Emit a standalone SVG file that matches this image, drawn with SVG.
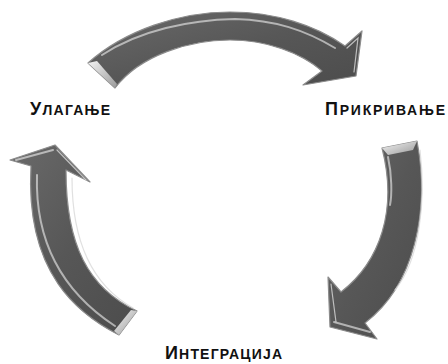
<svg xmlns="http://www.w3.org/2000/svg" width="448" height="364" viewBox="0 0 448 364">
<style>
.arrow{fill:url(#body);stroke:#8c8c8c;stroke-width:1.2;stroke-linejoin:round}
.hl{fill:none;stroke:#ffffff;stroke-linecap:round;stroke-opacity:.55;stroke-width:2}
.hl2{fill:none;stroke:#d8d8d8;stroke-linecap:round;stroke-opacity:.8;stroke-width:1.2}
.face{fill:url(#face);stroke:none}
.lbl{font-family:"Liberation Sans",Arial,sans-serif;font-weight:bold;font-size:14px;fill:#111}
.big{font-size:18px}
</style>
<defs>
<linearGradient id="body" x1="0" y1="0" x2="1" y2="1">
<stop offset="0" stop-color="#6a6a6a"/>
<stop offset="0.5" stop-color="#575757"/>
<stop offset="1" stop-color="#4c4c4c"/>
</linearGradient>
<linearGradient id="face" x1="0" y1="0" x2="1" y2="1">
<stop offset="0" stop-color="#f4f4f4"/>
<stop offset="1" stop-color="#9a9a9a"/>
</linearGradient>
</defs>
<rect width="448" height="364" fill="#ffffff"/>
<g id="connectors">
<g id="arrow-top">
<path class="arrow" d="M88,63 C125,30 180,12 230,12 C275,12 315,25 345,46 L362,31 L356,76 L303,85 L322,71 C300,52 265,40 230,40 C190,40 140,55 115,88 Z"/>
<path class="hl" d="M102,55 C140,30 190,20 235,19 C275,20 305,30 335,48"/>
<path class="hl" d="M270,47 C290,52 305,60 318,70"/>
<path class="hl2" d="M347,48 L358,38 L354,72"/>
<path class="face" d="M88,63 L97,61 L117,84 L115,88 Z"/>
</g>
<g id="arrow-right">
<path class="arrow" d="M382,148 L417,141 C430,210 415,285 365,323 L377,339 L330,327 L328,277 L341,292 C380,262 398,210 382,148 Z"/>
<path class="face" d="M382,148 L417,141 L413,150 L388,155 Z"/>
<path class="hl" d="M388,157 C392,175 392,195 390,205"/>
<path class="hl2" d="M420,150 C426,200 420,260 395,290"/>
<path class="hl" d="M334,322 L370,332"/>
<path class="hl2" d="M331,284 L336,322"/>
</g>
<g id="arrow-left">
<path class="arrow" d="M119,335 C80,315 25,275 31,166 L10,160 L55,145 L90,182 L66,170 C66,245 88,288 137,311 Z"/>
<path class="hl" d="M37,175 C35,240 60,290 115,326"/>
<path class="hl2" d="M72,178 C72,240 92,285 133,308"/>
<path class="hl" d="M16,160 L53,150"/>
<path class="hl2" d="M57,150 L86,180"/>
<path class="face" d="M137,311 L119,335 L114,331 L131,310 Z"/>
</g>
</g>
<g id="node-ulaganje">
<text class="lbl" x="30" y="115" textLength="80" lengthAdjust="spacing"><tspan class="big">У</tspan>ЛАГАЊЕ</text>
</g>
<g id="node-prikrivanje">
<text class="lbl" x="325" y="115" textLength="120" lengthAdjust="spacing"><tspan class="big">П</tspan>РИКРИВАЊЕ</text>
</g>
<g id="node-integracija">
<text class="lbl" x="165" y="359" textLength="117" lengthAdjust="spacing"><tspan class="big">И</tspan>НТЕГРАЦИЈА</text>
</g>
</svg>
